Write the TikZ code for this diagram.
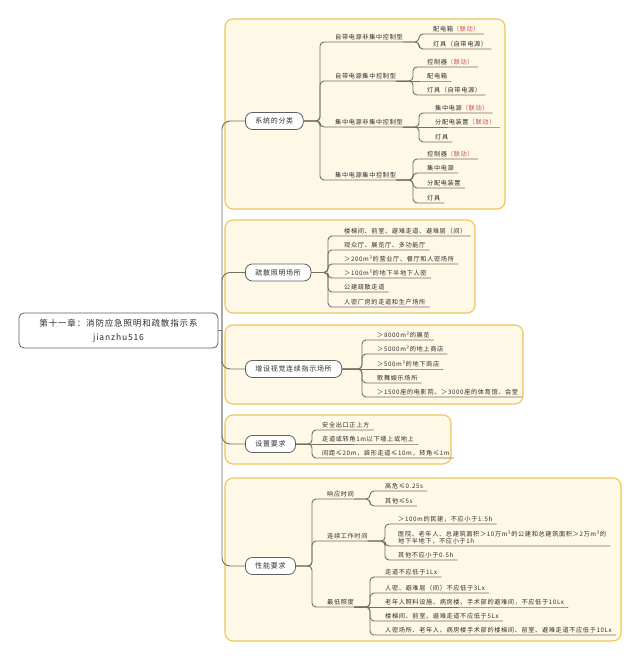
\documentclass[tikz,border=0pt]{standalone}
\usepackage{fontspec}
\newfontfamily\cjk[LetterSpace=10]{Noto Sans CJK SC}
\definecolor{panelfill}{RGB}{254,249,231}
\definecolor{panelborder}{RGB}{240,196,90}
\definecolor{nodeborder}{RGB}{95,95,95}
\definecolor{linec}{RGB}{118,110,98}
\definecolor{txt}{RGB}{45,45,45}
\definecolor{redt}{RGB}{200,80,80}
\newcommand\hl[1]{\textcolor{redt}{#1}}
\begin{document}
\begin{tikzpicture}[x=1pt,y=-1pt,
  panel/.style={draw=panelborder, fill=panelfill, line width=1.1pt, rounded corners=8pt},
  topic/.style={draw=nodeborder, fill=white, line width=0.8pt, rounded corners=7pt,
    font=\cjk\fontsize{7}{8}\selectfont, text=txt, inner xsep=10pt, minimum height=17pt, anchor=west},
  rootbox/.style={draw=nodeborder, fill=white, line width=0.8pt, rounded corners=5pt,
    font=\cjk\fontsize{8.5}{14}\selectfont, text=txt, minimum width=199pt, minimum height=35pt, align=center},
  item/.style={anchor=south west, inner xsep=0pt, inner ysep=1.6pt,
    font=\cjk\fontsize{6.2}{7.5}\selectfont, text=txt},
  conn/.style={draw=linec, line width=0.9pt, rounded corners=4pt},
  trunk/.style={draw=linec, line width=0.9pt, rounded corners=8pt}]
\useasboundingbox (0,0) rectangle (640,661);
\fill[white] (0,0) rectangle (640,661);

% panels
\draw[panel] (225,19) rectangle (505,209);
\draw[panel] (225,220) rectangle (475,313);
\draw[panel] (225,325) rectangle (523,404);
\draw[panel] (225,415) rectangle (451,464);
\draw[panel] (225,478) rectangle (621,641);

% root
\node[rootbox] (root) at (118.5,330.5) {第十一章：消防应急照明和疏散指示系\\jianzhu516};
\coordinate (T) at (222,330.5);

% section nodes
\node[topic] (S1) at (245,121) {系统的分类};
\node[topic] (S2) at (245,272.5) {疏散照明场所};
\node[topic] (S3) at (245,369) {增设视觉连续指示场所};
\node[topic] (S4) at (245,444) {设置要求};
\node[topic] (S5) at (245,566) {性能要求};

\draw[conn] (root.east) -- (T);
\foreach \s in {S1,S2,S3,S4,S5} \draw[trunk] (T) |- (\s.west);

% ---------- section 1
\coordinate (j1) at (320,121);
\node[item] (c11) at (335,42) {自带电源非集中控制型};
\node[item] (c12) at (335,81) {自带电源集中控制型};
\node[item] (c13) at (335,127) {集中电源非集中控制型};
\node[item] (c14) at (335,180) {集中电源集中控制型};
\foreach \c in {c11,c12,c13,c14} \draw[conn] (S1.east) -- (j1) |- (\c.south east);

\coordinate (j11) at (419,42);
\coordinate (j12) at (413,81);
\coordinate (j13) at (419,127);
\coordinate (j14) at (413,180);

\node[item] (g111) at (433,34) {配电箱\hl{（联动）}};
\node[item] (g112) at (433,49) {灯具（自带电源）};
\foreach \g in {g111,g112} \draw[conn] (c11.south east) -- (j11) |- (\g.south east) -- ++(3,0);

\node[item] (g121) at (427,67) {控制器\hl{（联动）}};
\node[item] (g122) at (427,81) {配电箱};
\node[item] (g123) at (427,95) {灯具（自带电源）};
\foreach \g in {g121,g123} \draw[conn] (c12.south east) -- (j12) |- (\g.south east) -- ++(3,0);
\draw[conn] (c12.south east) -- (g122.south east) -- ++(3,0);

\node[item] (g131) at (435,113) {集中电源\hl{（联动）}};
\node[item] (g132) at (435,127) {分配电装置\hl{（联动）}};
\node[item] (g133) at (435,142) {灯具};
\foreach \g in {g131,g133} \draw[conn] (c13.south east) -- (j13) |- (\g.south east) -- ++(3,0);
\draw[conn] (c13.south east) -- (g132.south east) -- ++(3,0);

\node[item] (g141) at (427,159) {控制器\hl{（联动）}};
\node[item] (g142) at (427,173) {集中电源};
\node[item] (g143) at (427,188) {分配电装置};
\node[item] (g144) at (427,203) {灯具};
\foreach \g in {g141,g142,g143,g144} \draw[conn] (c14.south east) -- (j14) |- (\g.south east) -- ++(3,0);

% ---------- section 2
\coordinate (j2) at (328,272.5);
\node[item] (c21) at (344,236) {楼梯间、前室、避难走道、避难层（间）};
\node[item] (c22) at (344,250) {观众厅、展览厅、多功能厅};
\node[item] (c23) at (344,264) {＞200m²的营业厅、餐厅和人密场所};
\node[item] (c24) at (344,278) {＞100m²的地下半地下人密};
\node[item] (c25) at (344,292) {公建疏散走道};
\node[item] (c26) at (344,307) {人密厂房的走道和生产场所};
\foreach \c in {c21,c22,c23,c24,c25,c26} \draw[conn] (S2.east) -- (j2) |- (\c.south east) -- ++(3,0);

% ---------- section 3
\coordinate (j3) at (362,369);
\node[item] (c31) at (377,340) {＞8000m²的展览};
\node[item] (c32) at (377,354) {＞5000m²的地上商店};
\node[item] (c33) at (377,369) {＞500m²的地下商店};
\node[item] (c34) at (377,383) {歌舞娱乐场所};
\node[item] (c35) at (377,397) {＞1500座的电影院、＞3000座的体育馆、会堂};
\foreach \c in {c31,c32,c34,c35} \draw[conn] (S3.east) -- (j3) |- (\c.south east) -- ++(3,0);
\draw[conn] (S3.east) -- (c33.south east) -- ++(3,0);

% ---------- section 4
\coordinate (j4) at (312,444);
\node[item] (c41) at (322,430) {安全出口正上方};
\node[item] (c42) at (322,444) {走道或转角1m以下墙上或地上};
\node[item] (c43) at (322,458) {间距≤20m，袋形走道≤10m，转角≤1m};
\foreach \c in {c41,c43} \draw[conn] (S4.east) -- (j4) |- (\c.south east) -- ++(3,0);
\draw[conn] (S4.east) -- (c42.south east) -- ++(3,0);

% ---------- section 5
\coordinate (j5) at (312,566);
\node[item] (c51) at (327,499) {响应时间};
\node[item] (c52) at (327,541) {连续工作时间};
\node[item] (c53) at (327,607) {最低照度};
\foreach \c in {c51,c52,c53} \draw[conn] (S5.east) -- (j5) |- (\c.south east);

\coordinate (j51) at (370,499);
\coordinate (j52) at (385,541);
\coordinate (j53) at (370,607);

\node[item] (g511) at (385,491) {高危≤0.25s};
\node[item] (g512) at (385,506) {其他≤5s};
\foreach \g in {g511,g512} \draw[conn] (c51.south east) -- (j51) |- (\g.south east) -- ++(3,0);

\node[item] (g521) at (398,524) {＞100m的民建，不应小于1.5h};
\node[item, align=left] (g522) at (398,546) {医院、老年人、总建筑面积＞10万m²的公建和总建筑面积＞2万m²的\\地下半地下，不应小于1h};
\node[item] (g523) at (398,560) {其他不应小于0.5h};
\foreach \g in {g521,g522,g523} \draw[conn] (c52.south east) -- (j52) |- (\g.south east) -- ++(3,0);

\node[item] (g531) at (385,577) {走道不应低于1Lx};
\node[item] (g532) at (385,593) {人密、避难层（间）不应低于3Lx};
\node[item] (g533) at (385,607) {老年人照料设施、病房楼、手术部的避难间，不应低于10Lx};
\node[item] (g534) at (385,621) {楼梯间、前室、避难走道不应低于5Lx};
\node[item] (g535) at (385,635) {人密场所、老年人、病房楼手术部的楼梯间、前室、避难走道不应低于10Lx};
\foreach \g in {g531,g532,g534,g535} \draw[conn] (c53.south east) -- (j53) |- (\g.south east) -- ++(3,0);
\draw[conn] (c53.south east) -- (g533.south east) -- ++(3,0);
\end{tikzpicture}
\end{document}
